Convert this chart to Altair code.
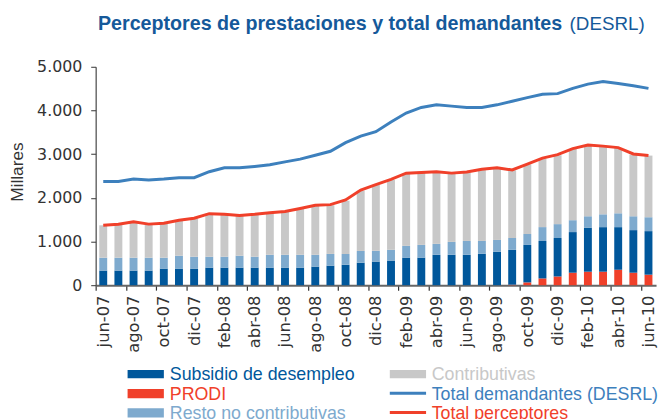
import altair as alt
import pandas as pd

months = ["jun-07", "jul-07", "ago-07", "sep-07", "oct-07", "nov-07", "dic-07",
          "ene-08", "feb-08", "mar-08", "abr-08", "may-08", "jun-08", "jul-08",
          "ago-08", "sep-08", "oct-08", "nov-08", "dic-08", "ene-09", "feb-09",
          "mar-09", "abr-09", "may-09", "jun-09", "jul-09", "ago-09", "sep-09",
          "oct-09", "nov-09", "dic-09", "ene-10", "feb-10", "mar-10", "abr-10",
          "may-10", "jun-10"]

prodi = [0, 0, 0, 0, 0, 0, 0, 0, 0, 0, 0, 0, 0, 0, 0, 0, 0, 0, 0, 0, 0, 0, 0, 0,
         0, 0, 0, 12, 64, 155, 200, 286, 309, 309, 354, 286, 241]
subsidio = [335, 335, 335, 335, 380, 380, 380, 403, 403, 403, 403, 403, 403, 403,
            426, 448, 471, 516, 541, 564, 632, 632, 696, 696, 696, 719, 764, 797,
            858, 857, 880, 930, 1009, 1020, 975, 975, 997]
resto = [294, 294, 294, 294, 249, 295, 272, 249, 249, 272, 249, 294, 294, 294,
         271, 268, 245, 268, 247, 246, 269, 291, 250, 295, 317, 294, 272, 272,
         250, 318, 318, 272, 260, 294, 317, 317, 318]
contributivas = [742, 757, 817, 765, 779, 809, 877, 983, 960, 914, 967, 953, 983,
                 1050, 1118, 1114, 1220, 1378, 1509, 1600, 1652, 1645, 1645, 1562,
                 1563, 1623, 1630, 1547, 1592, 1562, 1577, 1630, 1623, 1555, 1495,
                 1412, 1411]
demandantes = [2372, 2372, 2432, 2410, 2432, 2462, 2462, 2598, 2689, 2689, 2719,
               2756, 2824, 2885, 2975, 3066, 3262, 3412, 3515, 3737, 3940, 4069,
               4129, 4099, 4069, 4069, 4129, 4212, 4295, 4370, 4385, 4506, 4604,
               4664, 4619, 4566, 4506]
perceptores = [1371, 1394, 1454, 1398, 1420, 1488, 1533, 1638, 1622, 1594, 1622,
               1658, 1686, 1754, 1828, 1844, 1952, 2178, 2302, 2424, 2563, 2578,
               2597, 2566, 2593, 2654, 2688, 2638, 2770, 2910, 2990, 3128, 3207,
               3184, 3150, 3004, 2969]

series_names = ["PRODI", "Subsidio de desempleo", "Resto no contributivas", "Contributivas"]
series_values = [prodi, subsidio, resto, contributivas]
series_colors = ["#f0402a", "#00579b", "#7eaace", "#c8c8c8"]

C_DEM = "#3d80bd"
C_PER = "#f0402a"
C_TITLE = "#15599a"
FONT = "Liberation Sans"
AXFONT = "DejaVu Sans"

rows = []
for name, vals in zip(series_names, series_values):
    for m, v in zip(months, vals):
        rows.append({"mes": m, "serie": name, "valor": v, "orden": series_names.index(name)})
bars_df = pd.DataFrame(rows)
lines_df = pd.DataFrame({"mes": months, "demandantes": demandantes, "perceptores": perceptores})

W, H = 567, 221
step = W / len(months)

x_enc = alt.X(
    "mes:N", sort=months, title=None,
    scale=alt.Scale(paddingInner=0.478, paddingOuter=0.239),
    axis=alt.Axis(
        values=months[::2], labelAngle=270, labelAlign="right", labelBaseline="middle",
        tickOffset=-step / 2, labelOffset=step / 2, tickSize=5, labelPadding=5,
        labelFont=AXFONT, labelFontSize=16.5, labelColor="#333",
        domainColor="#666", domainWidth=2, tickColor="#333", tickWidth=1.2,
    ),
)

y_scale = alt.Scale(domain=[0, 5000], nice=False, zero=True)

bars = alt.Chart(bars_df).mark_bar().encode(
    x=x_enc,
    y=alt.Y(
        "sum(valor):Q", scale=y_scale, title="Millares",
        axis=alt.Axis(
            values=list(range(0, 5001, 500)),
            labelExpr="replace(format(datum.value, ','), ',', '.')",
            labelFont=AXFONT, labelFontSize=16, labelColor="#333", labelPadding=9,
            tickSize=5, tickColor="#333", domainColor="#444", domainWidth=1.2,
            grid=False, titleFont=FONT, titleFontSize=17.5, titleFontWeight="normal",
            titleColor="#333", titleX=-70, titleY=106, titleAngle=270,
            titleAlign="center", titleBaseline="bottom",
        ),
    ),
    color=alt.Color("serie:N", scale=alt.Scale(domain=series_names, range=series_colors), legend=None),
    order=alt.Order("orden:Q", sort="ascending"),
)

line_dem = alt.Chart(lines_df).mark_line(color=C_DEM, strokeWidth=3).encode(
    x=alt.X("mes:N", sort=months), y=alt.Y("demandantes:Q", scale=y_scale)
)
line_per = alt.Chart(lines_df).mark_line(color=C_PER, strokeWidth=3).encode(
    x=alt.X("mes:N", sort=months), y=alt.Y("perceptores:Q", scale=y_scale)
)

one = alt.Data(values=[{}])


def txt(text, x, y, size, color, weight="normal", align="left", font=FONT):
    return alt.Chart(one).mark_text(
        text=text, align=align, baseline="alphabetic", fontSize=size,
        fontWeight=weight, color=color, font=font,
    ).encode(x=alt.value(x), y=alt.value(y))


def swatch(x1, x2, y1, y2, color):
    return alt.Chart(one).mark_rect(color=color).encode(
        x=alt.value(x1), x2=alt.value(x2), y=alt.value(y1), y2=alt.value(y2)
    )


def legline(x1, x2, y, color):
    return alt.Chart(one).mark_rule(color=color, strokeWidth=3).encode(
        x=alt.value(x1), x2=alt.value(x2), y=alt.value(y)
    )


title_bold = txt("Perceptores de prestaciones y total demandantes", 2.3, -37, 19.9, C_TITLE, "bold")
title_norm = txt("(DESRL)", 555.5, -37, 19, C_TITLE, align="right")

lx1, lx2, ltx = 32.3, 69, 75
rx1, rx2, rtx = 297.6, 334.3, 340
r0, dr = 306.7, 19.4
LS = 18
legend_layers = [
    swatch(lx1, lx2, r0, r0 + 8.5, series_colors[1]),
    txt("Subsidio de desempleo", ltx, r0 + 10.6, LS, series_colors[1]),
    swatch(lx1, lx2, r0 + dr, r0 + dr + 9.3, series_colors[0]),
    txt("PRODI", ltx, r0 + dr + 10.6, LS, series_colors[0]),
    swatch(lx1, lx2, r0 + 2 * dr, r0 + 2 * dr + 9.3, series_colors[2]),
    txt("Resto no contributivas", ltx, r0 + 2 * dr + 10.6, LS, series_colors[2]),
    swatch(rx1, rx2, r0, r0 + 8.5, series_colors[3]),
    txt("Contributivas", rtx, r0 + 10.6, LS, series_colors[3]),
    legline(rx1, rx2, r0 + dr + 4.3, C_DEM),
    txt("Total demandantes (DESRL)", rtx, r0 + dr + 10.6, LS, C_DEM),
    legline(rx1, rx2, r0 + 2 * dr + 4.3, C_PER),
    txt("Total perceptores", rtx, r0 + 2 * dr + 10.6, LS, C_PER),
]

chart = alt.layer(
    bars, line_dem, line_per, title_bold, title_norm, *legend_layers
).properties(
    width=W, height=H,
    autosize=alt.AutoSizeParams(type="none"),
    padding={"left": 88.7, "top": 57, "right": 5, "bottom": 141},
    background="white",
).configure_view(stroke=None)

chart.save("out.html", embed_options={"renderer": "svg", "actions": False})
